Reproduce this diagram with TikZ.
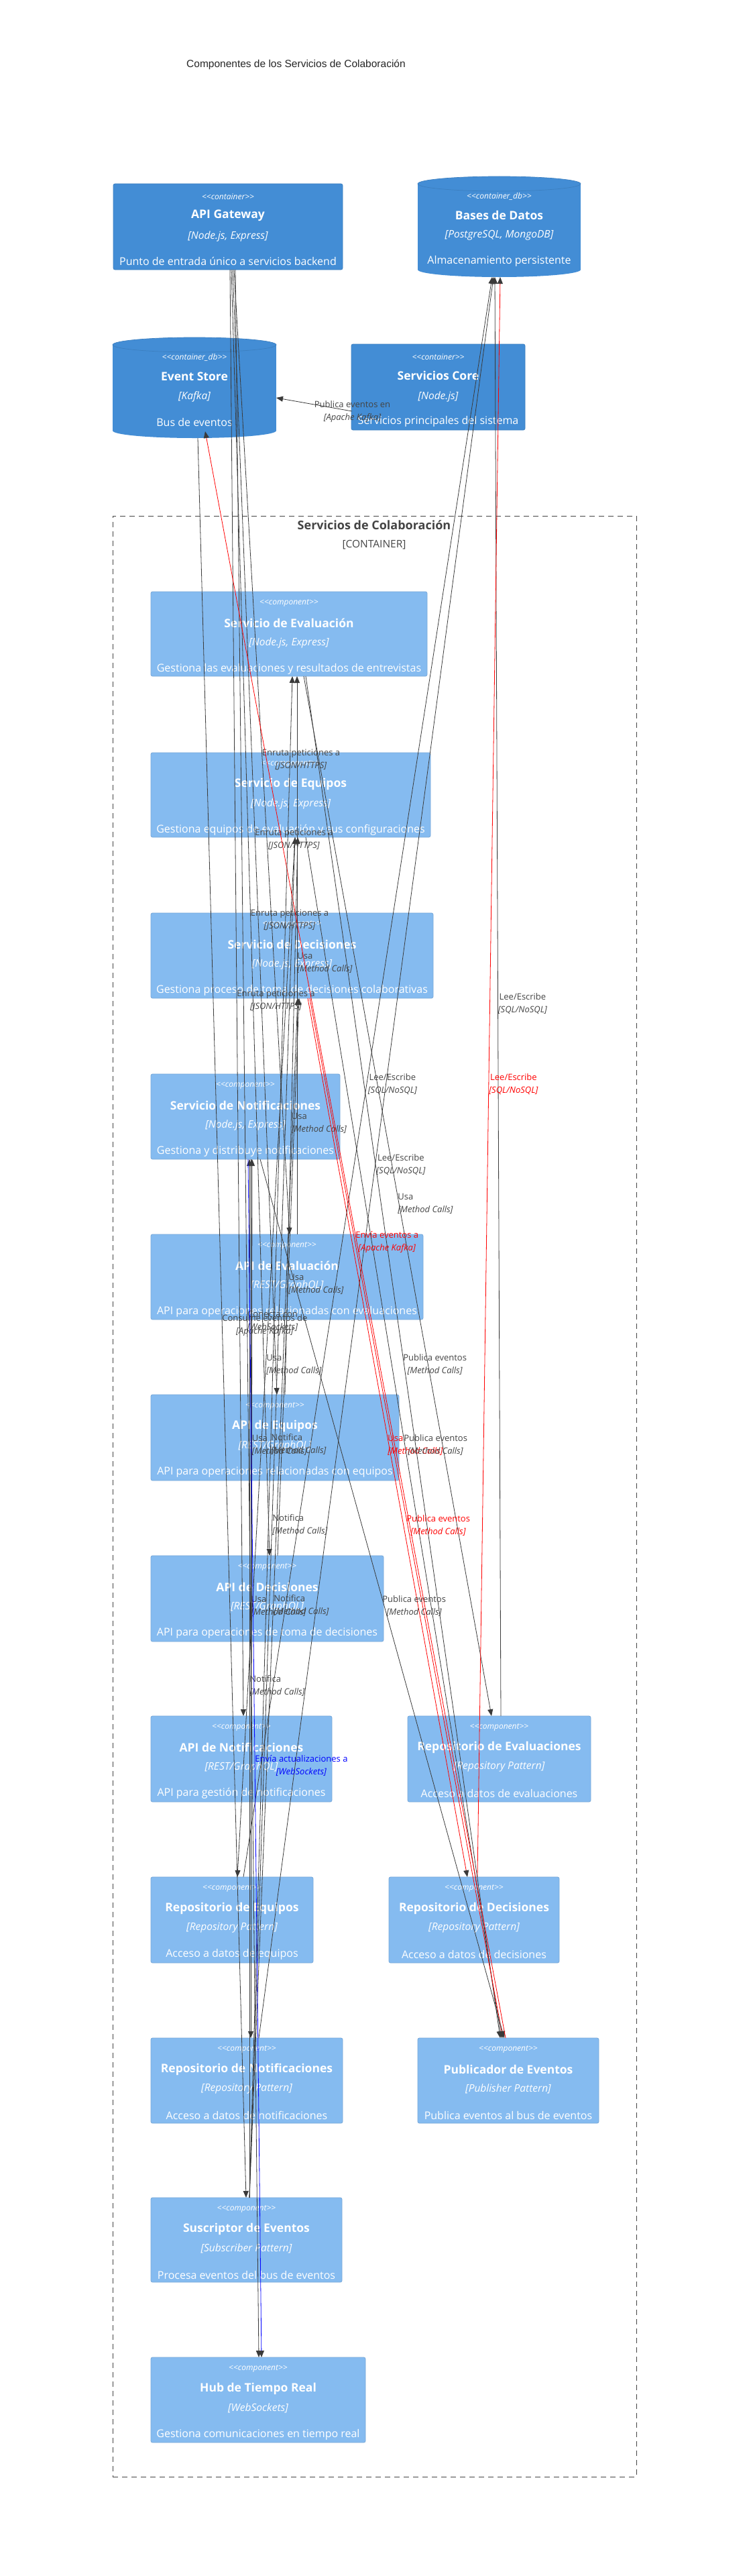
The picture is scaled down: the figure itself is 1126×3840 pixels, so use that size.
\documentclass[tikz,border=0pt]{standalone}
\usepackage{fontspec}
\setmainfont{Open Sans}
\newfontfamily\titlefont{Liberation Sans}
\newfontfamily\stereofont{Open Sans}[Ligatures=TeXOff]
\usetikzlibrary{arrows.meta,calc}
\definecolor{contfill}{HTML}{438DD5}
\definecolor{contline}{HTML}{3C7FC0}
\definecolor{compfill}{HTML}{85BBF0}
\definecolor{compline}{HTML}{78A8D8}
\definecolor{relgray}{HTML}{3A3A3A}
\definecolor{lblgray}{HTML}{444444}
\definecolor{relred}{HTML}{FF0000}
\definecolor{relblue}{HTML}{0000FF}
\tikzset{
  compshape/.style={draw=compline, fill=compfill, line width=0.8pt, rounded corners=2.5pt, inner sep=0pt, outer sep=0pt},
  contshape/.style={draw=contline, fill=contfill, line width=0.8pt, rounded corners=2.5pt, inner sep=0pt, outer sep=0pt},
  ghost/.style={draw=none, inner sep=0pt, outer sep=0pt},
  stereotxt/.style={font=\stereofont\itshape\fontsize{12}{14}\selectfont, text=white, inner sep=0pt},
  titletxt/.style={font=\bfseries\fontsize{17.5}{20}\selectfont, text=white, inner sep=0pt},
  techtxt/.style={font=\itshape\fontsize{15.5}{18}\selectfont, text=white, inner sep=0pt},
  desctxt/.style={font=\fontsize{16}{19}\selectfont, text=white, inner sep=0pt},
  rel/.style={draw=relgray, line width=0.8pt, -{Triangle[length=10pt,width=8pt,color=relgray]}},
  relR/.style={rel, draw=relred},
  relB/.style={rel, draw=relblue},
  lblc/.style={font=\fontsize{13}{19}\selectfont, text=lblgray, align=center, anchor=west, inner sep=0pt, yshift=-11pt},
  lbll/.style={lblc, align=left},
  lblR/.style={lblc, text=relred},
  lblRl/.style={lbll, text=relred},
  lblB/.style={lblc, text=relblue},
}
% component box: name x1 y1 x2 y2 title tech desc
\newcommand\mkcomp[8]{%
  \node[compshape, minimum width={#4-#2}, minimum height={#5-#3}] (#1) at ({(#2+#4)/2},{(#3+#5)/2}) {};
  \node[stereotxt] at ($(#1.north)+(0,17)$) {<<component>>};
  \node[titletxt] at ($(#1.north)+(0,47)$) {#6};
  \node[techtxt] at ($(#1.north)+(0,76)$) {[#7]};
  \node[desctxt] at ($(#1.north)+(0,115)$) {#8};
}
% container box
\newcommand\mkcont[8]{%
  \node[contshape, minimum width={#4-#2}, minimum height={#5-#3}] (#1) at ({(#2+#4)/2},{(#3+#5)/2}) {};
  \node[stereotxt] at ($(#1.north)+(0,19)$) {<<container>>};
  \node[titletxt] at ($(#1.north)+(0,47)$) {#6};
  \node[techtxt] at ($(#1.north)+(0,78)$) {[#7]};
  \node[desctxt] at ($(#1.north)+(0,115)$) {#8};
}
% database cylinder
\newcommand\mkdb[8]{%
  \fill[contfill] (#2,{#3+11}) rectangle (#4,{#5-11});
  \fill[contfill] ({(#2+#4)/2},{#5-11}) ellipse [x radius={(#4-#2)/2}, y radius=11];
  \fill[contfill] ({(#2+#4)/2},{#3+11}) ellipse [x radius={(#4-#2)/2}, y radius=11];
  \draw[contline, line width=0.7pt] ({(#2+#4)/2},{#3+11}) ellipse [x radius={(#4-#2)/2}, y radius=11];
  \node[ghost, minimum width={#4-#2}, minimum height={#5-#3}] (#1) at ({(#2+#4)/2},{(#3+#5)/2}) {};
  \node[stereotxt] at ($(#1.north)+(0,30)$) {<<container\_db>>};
  \node[titletxt] at ($(#1.north)+(0,58)$) {#6};
  \node[techtxt] at ($(#1.north)+(0,88)$) {[#7]};
  \node[desctxt] at ($(#1.north)+(0,126)$) {#8};
}
\begin{document}
\begin{tikzpicture}[x=1pt,y=-1pt]
\useasboundingbox (0,0) rectangle (1126,3840);
\fill[white] (0,0) rectangle (1126,3840);

\node[anchor=west, inner sep=0pt, font=\titlefont\fontsize{15.5}{18}\selectfont, text=black!85] (title) at (278,96) {Componentes de los Servicios de Colaboración};

% external containers
\mkcont{gw}{169}{274}{511}{402}{API Gateway}{Node.js, Express}{Punto de entrada único a servicios backend}
\mkdb{db}{623}{263}{866}{413}{Bases de Datos}{PostgreSQL, MongoDB}{Almacenamiento persistente}
\mkdb{es}{168}{503}{412}{653}{Event Store}{Kafka}{Bus de eventos}
\mkcont{core}{524}{513}{783}{641}{Servicios Core}{Node.js}{Servicios principales del sistema}

% boundary
\node[draw=lblgray, dash pattern=on 8pt off 6pt, line width=0.9pt, minimum width=781, minimum height=2923, inner sep=0pt, outer sep=0pt] (bnd) at (558.5,2230.5) {};
\node[font=\bfseries\fontsize{18}{21}\selectfont, text=lblgray, inner sep=0pt] (bndtitle) at (558,783) {Servicios de Colaboración};
\node[font=\fontsize{15.5}{18}\selectfont, text=lblgray, inner sep=0pt] (bndtype) at (558,812) {[CONTAINER]};

% components
\mkcomp{sEval}{225}{882}{637}{1008}{Servicio de Evaluación}{Node.js, Express}{Gestiona las evaluaciones y resultados de entrevistas}
\mkcomp{sEq}{225}{1122}{642}{1248}{Servicio de Equipos}{Node.js, Express}{Gestiona equipos de evaluación y sus configuraciones}
\mkcomp{sDec}{225}{1361}{646}{1488}{Servicio de Decisiones}{Node.js, Express}{Gestiona proceso de toma de decisiones colaborativas}
\mkcomp{sNot}{225}{1601}{507}{1728}{Servicio de Notificaciones}{Node.js, Express}{Gestiona y distribuye notificaciones}
\mkcomp{aEval}{225}{1840}{631}{1967}{API de Evaluación}{REST/GraphQL}{API para operaciones relacionadas con evaluaciones}
\mkcomp{aEq}{225}{2079}{595}{2207}{API de Equipos}{REST/GraphQL}{API para operaciones relacionadas con equipos}
\mkcomp{aDec}{225}{2319}{572}{2447}{API de Decisiones}{REST/GraphQL}{API para operaciones de toma de decisiones}
\mkcomp{aNot}{225}{2558}{495}{2686}{API de Notificaciones}{REST/GraphQL}{API para gestión de notificaciones}
\mkcomp{rEval}{608}{2558}{881}{2686}{Repositorio de Evaluaciones}{Repository Pattern}{Acceso a datos de evaluaciones}
\mkcomp{rEq}{225}{2798}{467}{2926}{Repositorio de Equipos}{Repository Pattern}{Acceso a datos de equipos}
\mkcomp{rDec}{580}{2798}{834}{2926}{Repositorio de Decisiones}{Repository Pattern}{Acceso a datos de decisiones}
\mkcomp{rNot}{225}{3038}{511}{3165}{Repositorio de Notificaciones}{Repository Pattern}{Acceso a datos de notificaciones}
\mkcomp{pub}{623}{3038}{893}{3165}{Publicador de Eventos}{Publisher Pattern}{Publica eventos al bus de eventos}
\mkcomp{sub}{225}{3276}{510}{3402}{Suscriptor de Eventos}{Subscriber Pattern}{Procesa eventos del bus de eventos}
\mkcomp{hub}{225}{3514}{545}{3641}{Hub de Tiempo Real}{WebSockets}{Gestiona comunicaciones en tiempo real}

% ---- connectors ----
\draw[rel] ($(core.north west)+(1,100)$) -- node[pos=0.5,lblc]{Publica eventos en\\\textit{[Apache Kafka]}} ($(es.north west)+(244,90)$);

% gateway routes
\draw[rel] ($(gw.south west)+(180,0)$) -- node[pos=0.5,lblc]{Enruta peticiones a\\\textit{[JSON/HTTPS]}} ($(aEval.north west)+(207,0)$);
\draw[rel] ($(gw.south west)+(178,0)$) -- node[pos=0.5,lblc]{Enruta peticiones a\\\textit{[JSON/HTTPS]}} ($(aEq.north west)+(188,0)$);
\draw[rel] ($(gw.south west)+(176,0)$) -- node[pos=0.5,lblc]{Enruta peticiones a\\\textit{[JSON/HTTPS]}} ($(aDec.north west)+(177,0)$);
\draw[rel] ($(gw.south west)+(174,0)$) -- node[pos=0.5,lblc]{Enruta peticiones a\\\textit{[JSON/HTTPS]}} ($(aNot.north west)+(138,0)$);
\draw[rel] ($(gw.south west)+(182,0)$) -- node[pos=0.5,lblc]{Conecta con\\\textit{[WebSockets]}} ($(hub.north west)+(161,0)$);

% API -> service
\draw[rel] ($(aEval.north west)+(218,0)$) -- node[pos=0.5,lbll]{Usa\\\textit{[Method Calls]}} ($(sEval.south west)+(218,0)$);
\draw[rel] ($(aEq.north west)+(200,0)$) -- node[pos=0.5,lbll]{Usa\\\textit{[Method Calls]}} ($(sEq.south west)+(219,0)$);
\draw[rel] ($(aDec.north west)+(189,0)$) -- node[pos=0.5,lbll]{Usa\\\textit{[Method Calls]}} ($(sDec.south west)+(221,0)$);
\draw[rel] ($(aNot.north west)+(150,0)$) -- node[pos=0.5,lbll]{Usa\\\textit{[Method Calls]}} ($(sNot.south west)+(151,0)$);

% service -> repository
\draw[rel] ($(sEval.south west)+(228,0)$) -- node[pos=0.5,lbll]{Usa\\\textit{[Method Calls]}} ($(rEval.north west)+(125,0)$);
\draw[rel] ($(sEq.south west)+(215,0)$) -- node[pos=0.5,lbll]{Usa\\\textit{[Method Calls]}} ($(rEq.north west)+(129,0)$);
\draw[relR] ($(sDec.south west)+(234,0)$) -- node[pos=0.5,lblRl]{Usa\\\textit{[Method Calls]}} ($(rDec.north west)+(117,0)$);
\draw[rel] ($(sNot.south west)+(149,0)$) -- node[pos=0.5,lbll]{Usa\\\textit{[Method Calls]}} ($(rNot.north west)+(149,0)$);

% repository -> database
\draw[rel] ($(rEval.north west)+(139,0)$) -- node[pos=0.5,lblc]{Lee/Escribe\\\textit{[SQL/NoSQL]}} ($(db.south west)+(115,0)$);
\draw[rel] ($(rEq.north west)+(138,0)$) -- node[pos=0.5,lblc]{Lee/Escribe\\\textit{[SQL/NoSQL]}} ($(db.south west)+(111,0)$);
\draw[relR] ($(rDec.north west)+(132,0)$) -- node[pos=0.5,lblR]{Lee/Escribe\\\textit{[SQL/NoSQL]}} ($(db.south west)+(123,0)$);
\draw[rel] ($(rNot.north west)+(161,0)$) -- node[pos=0.5,lblc]{Lee/Escribe\\\textit{[SQL/NoSQL]}} ($(db.south west)+(113,0)$);

% service -> publisher
\draw[rel] ($(sEval.south west)+(231,0)$) -- node[pos=0.5,lblc]{Publica eventos\\\textit{[Method Calls]}} ($(pub.north west)+(123,0)$);
\draw[rel] ($(sEq.south west)+(231,0)$) -- node[pos=0.5,lblc]{Publica eventos\\\textit{[Method Calls]}} ($(pub.north west)+(125,0)$);
\draw[relR] ($(sDec.south west)+(237,0)$) -- node[pos=0.5,lblR]{Publica eventos\\\textit{[Method Calls]}} ($(pub.north west)+(127,0)$);
\draw[rel] ($(sNot.south west)+(163,0)$) -- node[pos=0.5,lblc]{Publica eventos\\\textit{[Method Calls]}} ($(pub.north west)+(129,0)$);

% events
\draw[relR] ($(pub.north west)+(131,0)$) -- node[pos=0.5,lblR]{Envía eventos a\\\textit{[Apache Kafka]}} ($(es.south west)+(138,-10)$);
\draw[rel] ($(es.south west)+(127,0)$) -- node[pos=0.5,lblc]{Consume eventos de\\\textit{[Apache Kafka]}} ($(sub.north west)+(142,0)$);

% subscriber -> services
\draw[rel] ($(sub.north west)+(147,0)$) -- node[pos=0.5,lbll]{Notifica\\\textit{[Method Calls]}} ($(sEval.south west)+(211,0)$);
\draw[rel] ($(sub.north west)+(147,0)$) -- node[pos=0.5,lbll]{Notifica\\\textit{[Method Calls]}} ($(sEq.south west)+(215,0)$);
\draw[rel] ($(sub.north west)+(147,0)$) -- node[pos=0.5,lbll]{Notifica\\\textit{[Method Calls]}} ($(sDec.south west)+(219,0)$);
\draw[rel] ($(sub.north west)+(147,0)$) -- node[pos=0.5,lbll]{Notifica\\\textit{[Method Calls]}} ($(sNot.south west)+(147,0)$);

% real time
\draw[relB] ($(sNot.south west)+(145,0)$) -- node[pos=0.5,lblB]{Envía actualizaciones a\\\textit{[WebSockets]}} ($(hub.north west)+(165,0)$);
\end{tikzpicture}
\end{document}
